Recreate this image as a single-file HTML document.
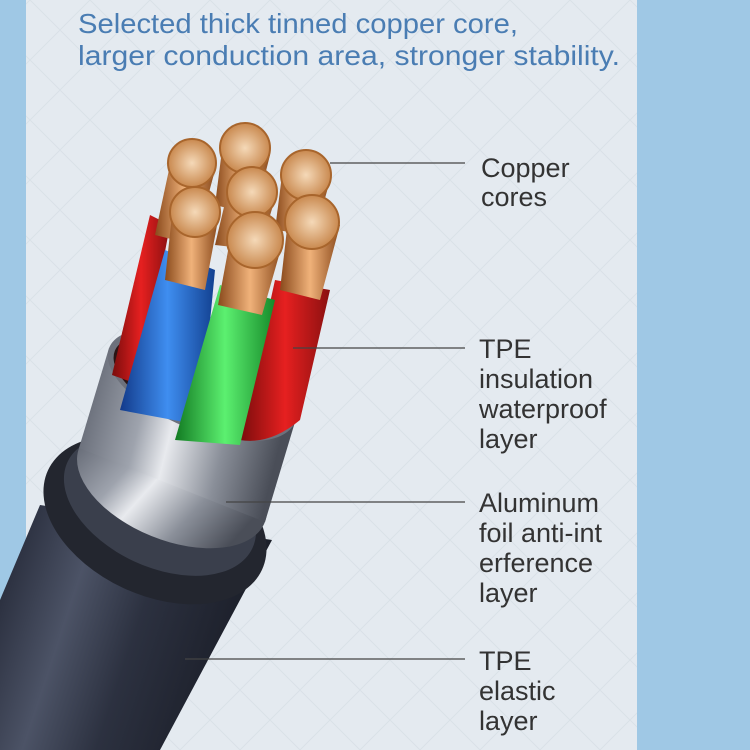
<!DOCTYPE html>
<html><head><style>
body{margin:0;width:750px;height:750px;overflow:hidden;background:#9fc8e5;font-family:"Liberation Sans",sans-serif}
svg{display:block}
</style></head><body>
<svg width="750" height="750" viewBox="0 0 750 750" xmlns="http://www.w3.org/2000/svg">
<defs>
<pattern id="dm" width="60" height="60" patternUnits="userSpaceOnUse">
<path d="M0,30 L30,0 L60,30 L30,60 Z" fill="none" stroke="#d9e1e8" stroke-width="1"/>
</pattern>
<linearGradient id="jk" x1="0" y1="0" x2="1" y2="0.3">
<stop offset="0" stop-color="#1e2230"/><stop offset="0.35" stop-color="#4c5366"/><stop offset="0.6" stop-color="#2c3140"/><stop offset="1" stop-color="#1a1d27"/></linearGradient>
<linearGradient id="al" x1="0" y1="0" x2="1" y2="0.2">
<stop offset="0" stop-color="#555a66"/><stop offset="0.35" stop-color="#9ea3ad"/><stop offset="0.5" stop-color="#e8eaee"/><stop offset="0.75" stop-color="#8a8f99"/><stop offset="1" stop-color="#4a4e58"/></linearGradient>
<linearGradient id="cu" x1="0" y1="0" x2="1" y2="0">
<stop offset="0" stop-color="#8a4a1c"/><stop offset="0.5" stop-color="#f0b27a"/><stop offset="1" stop-color="#8a4a1c"/></linearGradient>
<radialGradient id="ct"><stop offset="0" stop-color="#f5d9b8"/><stop offset="1" stop-color="#c9894f"/></radialGradient>
<linearGradient id="rd" x1="0" x2="1"><stop offset="0" stop-color="#7a0c0c"/><stop offset="0.5" stop-color="#e62020"/><stop offset="1" stop-color="#8a1010"/></linearGradient>
<linearGradient id="bl" x1="0" x2="1"><stop offset="0" stop-color="#123a8a"/><stop offset="0.5" stop-color="#3f8ef0"/><stop offset="1" stop-color="#124090"/></linearGradient>
<linearGradient id="gr" x1="0" x2="1"><stop offset="0" stop-color="#127a22"/><stop offset="0.5" stop-color="#5cf070"/><stop offset="1" stop-color="#168a2a"/></linearGradient>
</defs>
<rect x="26" y="0" width="611" height="750" fill="#e4eaf0"/>
<rect x="26" y="0" width="611" height="750" fill="url(#dm)"/>
<text x="78" y="33" font-size="28" fill="#4a7db3" textLength="440" lengthAdjust="spacingAndGlyphs">Selected thick tinned copper core,</text>
<text x="78" y="65" font-size="28" fill="#4a7db3" textLength="542" lengthAdjust="spacingAndGlyphs">larger conduction area, stronger stability.</text>

<!-- jacket -->
<path d="M0,600 L40,505 L272,540 L160,750 L0,750 Z" fill="url(#jk)"/>
<ellipse cx="155" cy="520" rx="118" ry="75" transform="rotate(25 155 520)" fill="#23262f"/>
<ellipse cx="160" cy="505" rx="102" ry="62" transform="rotate(25 160 505)" fill="#3a3f4c"/>
<!-- aluminum -->
<ellipse cx="172" cy="485" rx="100" ry="55" transform="rotate(22 172 485)" fill="url(#al)"/>
<path d="M109,348 L295,422 L265,522 L79,448 Z" fill="url(#al)"/>
<ellipse cx="202" cy="385" rx="100" ry="45" transform="rotate(22 202 385)" fill="#6d717c"/>
<ellipse cx="202" cy="386" rx="94" ry="40" transform="rotate(22 202 386)" fill="#2a1414"/>

<!-- wires -->
<path d="M150,215 L170,225 L140,385 L112,375 Z" fill="url(#rd)"/>
<path d="M165,250 L215,270 L200,425 L120,410 Z" fill="url(#bl)"/>
<path d="M275,280 L330,290 L300,420 Q270,445 240,440 Z" fill="url(#rd)"/>
<path d="M220,285 L275,300 L240,445 L175,440 Z" fill="url(#gr)"/>
<!-- copper strands -->
<g fill="url(#cu)">
<path d="M170,165 L215,170 L195,245 L155,235 Z"/>
<path d="M222,150 L270,155 L255,215 L215,205 Z"/>
<path d="M282,175 L330,180 L315,235 L275,230 Z"/>
<path d="M228,190 L276,195 L260,250 L215,245 Z"/>
<path d="M172,215 L218,220 L205,290 L165,280 Z"/>
<path d="M230,240 L282,245 L262,315 L218,305 Z"/>
<path d="M288,220 L340,225 L320,300 L280,290 Z"/>
</g>
<g fill="url(#ct)" stroke="#a8652c" stroke-width="2">
<circle cx="245" cy="148" r="25"/>
<circle cx="192" cy="163" r="24"/>
<circle cx="306" cy="175" r="25"/>
<circle cx="252" cy="192" r="25"/>
<circle cx="195" cy="212" r="25"/>
<circle cx="312" cy="222" r="27"/>
<circle cx="255" cy="240" r="28"/>
</g>

<!-- leader lines -->
<g stroke="#444" stroke-width="1.3">
<line x1="330" y1="163" x2="465" y2="163"/>
<line x1="293" y1="348" x2="465" y2="348"/>
<line x1="226" y1="502" x2="465" y2="502"/>
<line x1="185" y1="659" x2="465" y2="659"/>
</g>
<g font-size="27" fill="#333">
<text x="481" y="177">Copper</text><text x="481" y="206">cores</text>
<text x="479" y="358">TPE</text><text x="479" y="388">insulation</text><text x="479" y="418">waterproof</text><text x="479" y="448">layer</text>
<text x="479" y="512">Aluminum</text><text x="479" y="542">foil anti-int</text><text x="479" y="572">erference</text><text x="479" y="602">layer</text>
<text x="479" y="670">TPE</text><text x="479" y="700">elastic</text><text x="479" y="730">layer</text>
</g>
</svg>
</body></html>
